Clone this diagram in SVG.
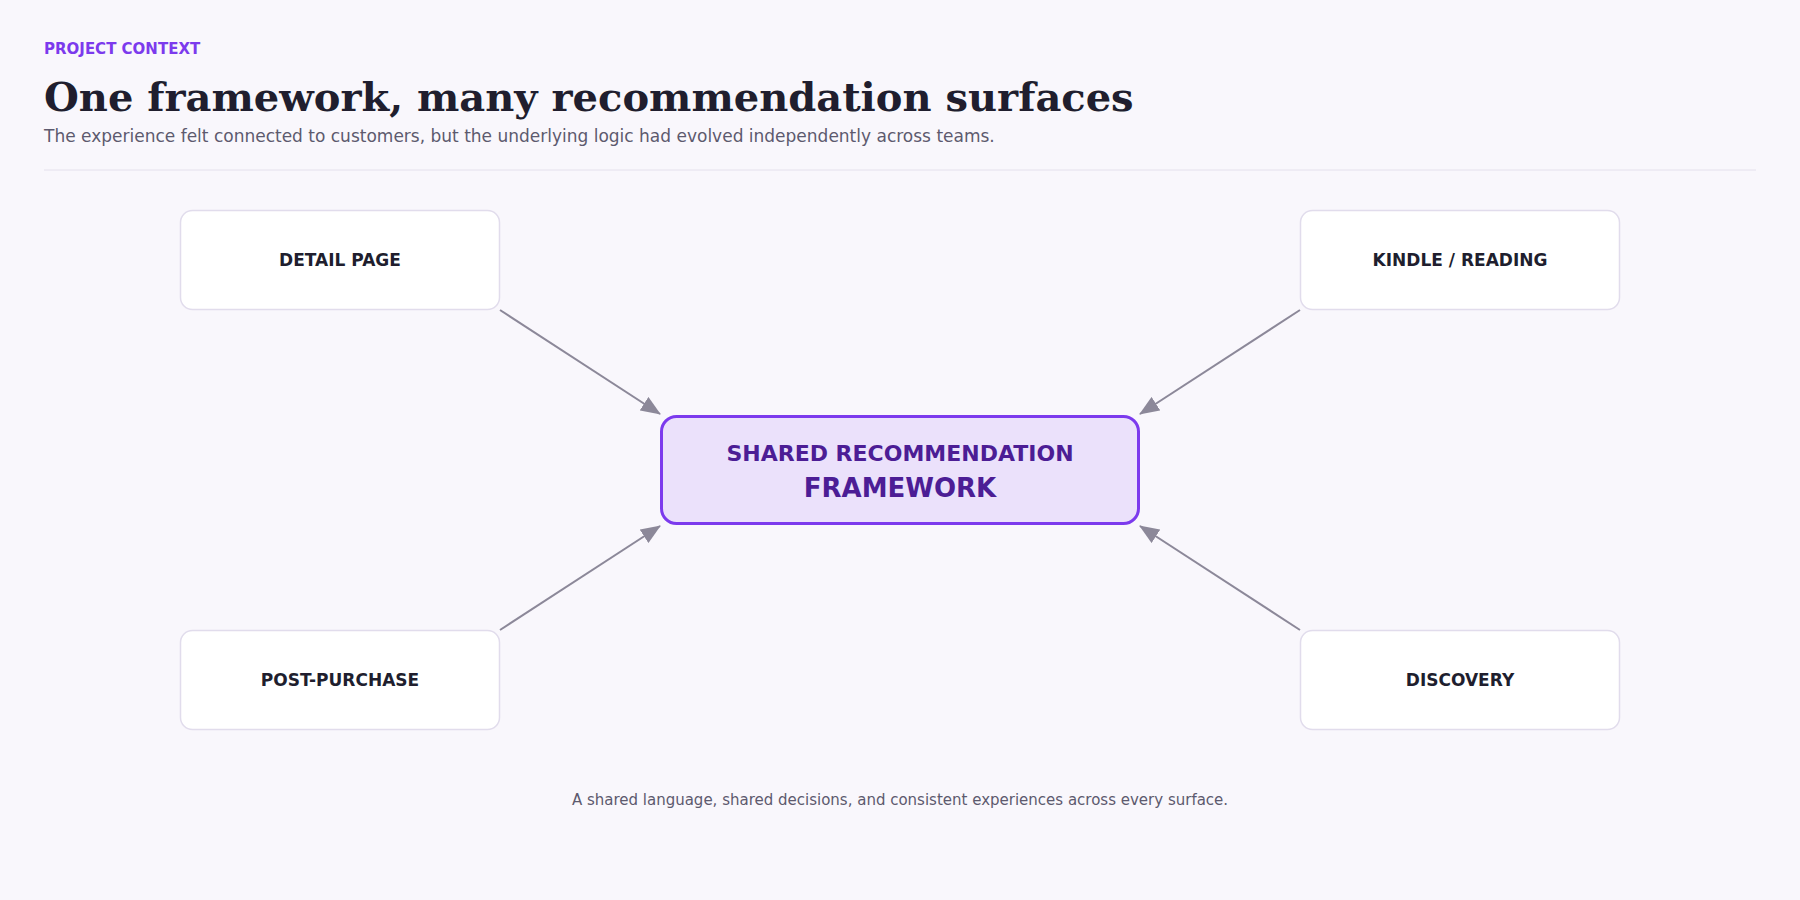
<svg xmlns="http://www.w3.org/2000/svg" width="1800" height="900" viewBox="0 0 1800 900">
<defs>
<style>
.eyebrow{font-family:"DejaVu Sans",sans-serif;font-weight:bold;font-size:15px;fill:#7c3aed}
.title{font-family:"DejaVu Serif",serif;font-weight:bold;font-size:40px;fill:#201e2e}
.sub{font-family:"DejaVu Sans",sans-serif;font-size:17px;fill:#5d5a6e}
.foot{font-family:"DejaVu Sans",sans-serif;font-size:15px;fill:#5d5a6e}
.box{fill:#ffffff;stroke:#e1dcec;stroke-width:1.5}
.lbl{font-family:"DejaVu Sans",sans-serif;font-weight:bold;font-size:17px;fill:#201e2e;text-anchor:middle}
.hub{fill:#ebe1fb;stroke:#7c3aed;stroke-width:3}
.hubt{font-family:"DejaVu Sans",sans-serif;font-weight:bold;fill:#4c1d95;text-anchor:middle}
.conn{stroke:#8c8899;stroke-width:2;fill:none}
</style>
<marker id="arr" markerUnits="userSpaceOnUse" markerWidth="20" markerHeight="16" viewBox="0 0 20 16" refX="19" refY="8" orient="auto">
<path d="M0,0 L20,8 L0,16 z" fill="#8c8899"/>
</marker>
</defs>
<rect width="1800" height="900" fill="#f9f7fc"/>
<g id="header">
<text class="eyebrow" x="44" y="54">PROJECT CONTEXT</text>
<text class="title" x="44" y="111">One framework, many recommendation surfaces</text>
<text class="sub" x="44" y="142">The experience felt connected to customers, but the underlying logic had evolved independently across teams.</text>
<line x1="44" y1="170" x2="1756" y2="170" stroke="#e4e0ec" stroke-width="1"/>
</g>
<g id="connectors">
<line class="conn" x1="500" y1="310" x2="660" y2="414" marker-end="url(#arr)"/>
<line class="conn" x1="1300" y1="310" x2="1140" y2="414" marker-end="url(#arr)"/>
<line class="conn" x1="500" y1="630" x2="660" y2="526" marker-end="url(#arr)"/>
<line class="conn" x1="1300" y1="630" x2="1140" y2="526" marker-end="url(#arr)"/>
</g>
<g id="node-detail">
<rect class="box" x="180.5" y="210.5" width="319" height="99" rx="12"/>
<text class="lbl" x="340" y="266">DETAIL PAGE</text>
</g>
<g id="node-kindle">
<rect class="box" x="1300.5" y="210.5" width="319" height="99" rx="12"/>
<text class="lbl" x="1460" y="266">KINDLE / READING</text>
</g>
<g id="node-post">
<rect class="box" x="180.5" y="630.5" width="319" height="99" rx="12"/>
<text class="lbl" x="340" y="686">POST-PURCHASE</text>
</g>
<g id="node-discovery">
<rect class="box" x="1300.5" y="630.5" width="319" height="99" rx="12"/>
<text class="lbl" x="1460" y="686">DISCOVERY</text>
</g>
<g id="node-hub">
<rect class="hub" x="661.5" y="416.5" width="477" height="107" rx="15"/>
<text class="hubt" x="900" y="461" font-size="22">SHARED RECOMMENDATION</text>
<text class="hubt" x="900" y="497" font-size="26">FRAMEWORK</text>
</g>
<g id="footer">
<text class="foot" x="900" y="805" text-anchor="middle">A shared language, shared decisions, and consistent experiences across every surface.</text>
</g>
</svg>
